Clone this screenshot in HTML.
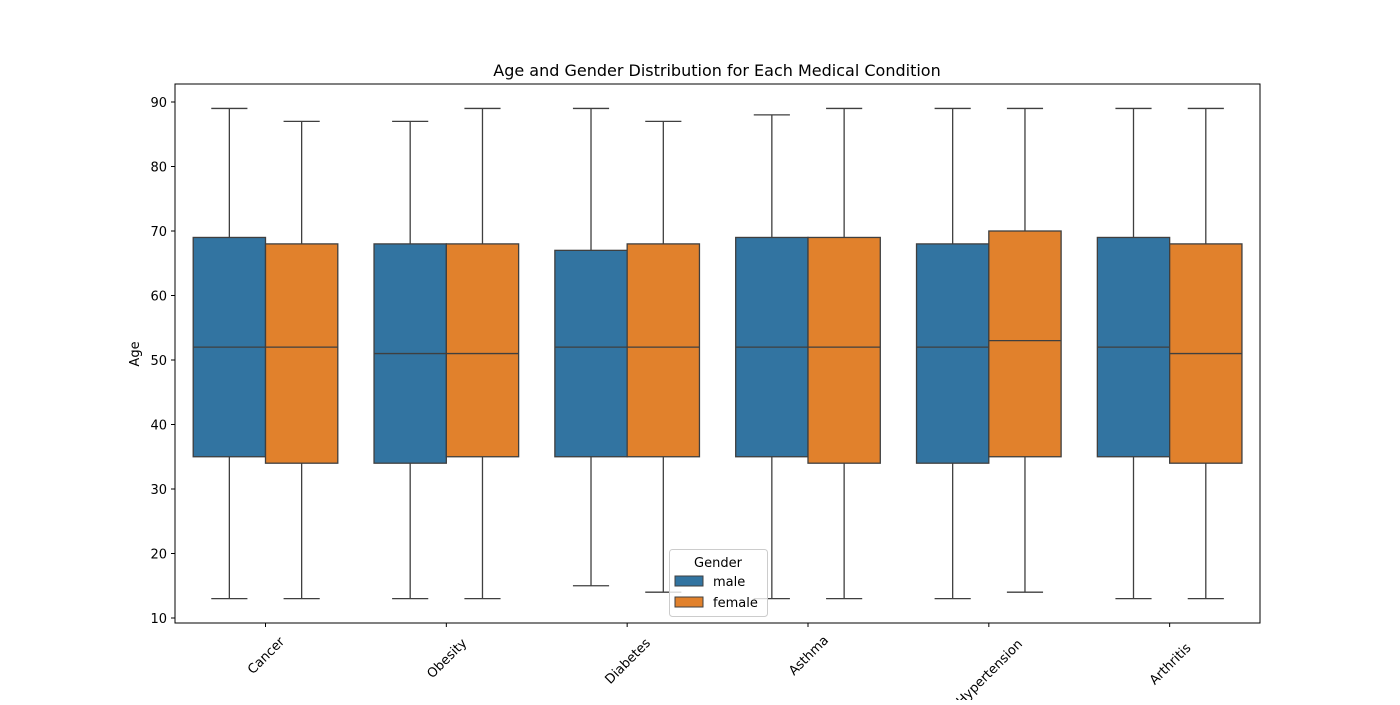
<!DOCTYPE html>
<html><head><meta charset="utf-8"><style>
body{margin:0;background:#fff;font-family:"Liberation Sans","DejaVu Sans",sans-serif;}
svg text{font-family:"DejaVu Sans","Liberation Sans",sans-serif;}
</style></head><body>
<svg id="chart" width="1400" height="700" xmlns="http://www.w3.org/2000/svg">
<rect width="1400" height="700" fill="#fff"/>
<text x="717" y="76" text-anchor="middle" font-size="16" fill="#000">Age and Gender Distribution for Each Medical Condition</text>
<g id="marks"></g>
<rect x="175" y="84" width="1085" height="539" fill="none" stroke="#000" stroke-width="1"/>
<text transform="translate(139,354) rotate(-90)" text-anchor="middle" font-size="13">Age</text>
<g>
<rect x="669.5" y="549.5" width="98" height="67" rx="3" fill="#fff" fill-opacity="0.8" stroke="#ccc"/>
<text x="718" y="567" text-anchor="middle" font-size="13">Gender</text>
<rect x="675" y="576" width="28" height="10" fill="#3274a1" stroke="#3f3f3f"/>
<text x="713" y="586" font-size="13">male</text>
<rect x="675" y="597" width="28" height="10" fill="#e1812c" stroke="#3f3f3f"/>
<text x="713" y="607" font-size="13">female</text>
</g>
</svg>
<script>
const categories=["Cancer","Obesity","Diabetes","Asthma","Hypertension","Arthritis"];
const maleStats=[[13,35,52,69,89],[13,34,51,68,87],[15,35,52,67,89],[13,35,52,69,88],[13,34,52,68,89],[13,35,52,69,89]];
const femaleStats=[[13,34,52,68,87],[13,35,51,68,89],[14,35,52,68,87],[13,34,52,69,89],[14,35,53,70,89],[13,34,51,68,89]];
const yTicks=[10,20,30,40,50,60,70,80,90];
const NS="http://www.w3.org/2000/svg";
const svg=document.getElementById('chart');
const marks=document.getElementById('marks');
function y(v){return 618-(v-10)*6.45;}
function xc(i){return 265.5+i*180.83;}
const boxW=72.3;
function el(t,a,p){const e=document.createElementNS(NS,t);for(const k in a)e.setAttribute(k,a[k]);(p||marks).appendChild(e);return e;}
yTicks.forEach(t=>{
  const l=el('line',{x1:171,x2:175,y1:y(t),y2:y(t),stroke:'#000'});
  
  
  const tx=el('text',{x:167,y:y(t)+5,'text-anchor':'end','font-size':13});
  tx.textContent=t;
  
  
});
categories.forEach((c,i)=>{
  const cx=xc(i);
  const l=el('line',{x1:cx,x2:cx,y1:623,y2:627,stroke:'#000'});
  
  
  const len=c.length*8;
  const cy=630+len*0.3536+8;
  const tx=el('text',{transform:`translate(${cx},${cy}) rotate(-45)`,'text-anchor':'middle','font-size':13,y:5});
  tx.textContent=c;
  
  
  [[maleStats[i],'#3274a1',-1,'male'],[femaleStats[i],'#e1812c',0,'female']].forEach(([s,col,off,g])=>{
    const x0=cx+off*boxW, mid=x0+boxW/2;
    const grp=el('g',{});
    
    
    el('line',{x1:mid,x2:mid,y1:y(s[0]),y2:y(s[1]),stroke:'#3f3f3f','stroke-width':1.3},grp);
    el('line',{x1:mid,x2:mid,y1:y(s[3]),y2:y(s[4]),stroke:'#3f3f3f','stroke-width':1.3},grp);
    el('line',{x1:mid-boxW/4,x2:mid+boxW/4,y1:y(s[0]),y2:y(s[0]),stroke:'#3f3f3f','stroke-width':1.3},grp);
    el('line',{x1:mid-boxW/4,x2:mid+boxW/4,y1:y(s[4]),y2:y(s[4]),stroke:'#3f3f3f','stroke-width':1.3},grp);
    el('rect',{x:x0,y:y(s[3]),width:boxW,height:y(s[1])-y(s[3]),fill:col,stroke:'#3f3f3f','stroke-width':1.3},grp);
    el('line',{x1:x0,x2:x0+boxW,y1:y(s[2]),y2:y(s[2]),stroke:'#3f3f3f','stroke-width':1.3},grp);
  });
});
</script>
</body></html>
